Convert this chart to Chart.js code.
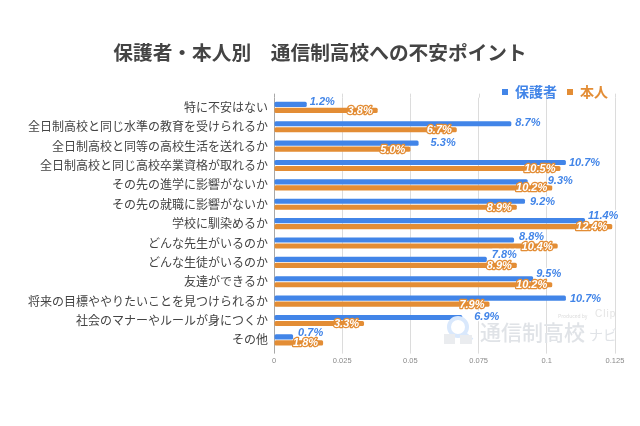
<!DOCTYPE html>
<html><head><meta charset="utf-8">
<style>
html,body{margin:0;padding:0;background:#fff;width:640px;height:426px;overflow:hidden}
#wrap{position:relative;width:640px;height:426px}
canvas{position:absolute;left:0;top:0}
.wm{position:absolute;white-space:nowrap;font-family:"Noto Sans CJK JP";line-height:1}
</style>
<script src="https://cdn.jsdelivr.net/npm/chart.js@4"></script>
</head><body><div id="wrap"><canvas id="c" width="640" height="426"></canvas>
<div class="wm" style="left:480px;top:321px;font-size:21px;color:#e0e3e7;font-weight:500">通信制高校<span style="font-size:14px;margin-left:4px;font-weight:400">ナビ</span></div>
<div class="wm" style="left:558px;top:313px;font-size:5px;color:#dcdcdc">Produced by</div>
<div class="wm" style="left:595px;top:309px;font-size:10px;color:#e4e4e4;letter-spacing:1px;font-family:'Liberation Sans'">Clip</div>
<svg style="position:absolute;left:444px;top:315px" width="36" height="36"><circle cx="14" cy="12" r="9" fill="none" stroke="#d9e8fc" stroke-width="4"/><line x1="21" y1="19" x2="28" y2="25" stroke="#d9e8fc" stroke-width="4"/><rect x="0" y="19" width="11" height="10" fill="#eaecef"/><rect x="16" y="20" width="12" height="9" fill="#eaecef"/></svg>
</div>
<script>
const categories=["特に不安はない","全日制高校と同じ水準の教育を受けられるか","全日制高校と同等の高校生活を送れるか","全日制高校と同じ高校卒業資格が取れるか","その先の進学に影響がないか","その先の就職に影響がないか","学校に馴染めるか","どんな先生がいるのか","どんな生徒がいるのか","友達ができるか","将来の目標ややりたいことを見つけられるか","社会のマナーやルールが身につくか","その他"];
const guardian=[0.012,0.087,0.053,0.107,0.093,0.092,0.114,0.088,0.078,0.095,0.107,0.069,0.007];
const student=[0.038,0.067,0.05,0.105,0.102,0.089,0.124,0.104,0.089,0.102,0.079,0.033,0.018];
const seriesNames=["保護者","本人"];
const xTicks=[0,0.025,0.05,0.075,0.1,0.125];
// label placement relative to each bar end (gap to the right, rise above the bar)
const guardianLabelGap=[3,4,12,3,20,5,3,5,5,3,4,12,5];
const guardianLabelRise=[3,1,1,0,1,0,5,4,5,5,0,1,4];
const BLUE="#4285e8",ORANGE="#e38d35",CJK='"Noto Sans CJK JP"';
const fmt=v=>(v*100).toFixed(1)+"%";
const dataLabels={id:"dataLabels",afterDatasetsDraw(chart){
  const g=chart.ctx;g.save();g.font='italic 700 11px "Liberation Sans"';g.textBaseline="middle";g.lineJoin="round";
  chart.getDatasetMeta(0).data.forEach((b,i)=>{g.textAlign="left";
    const x=b.x+guardianLabelGap[i],y=b.y-guardianLabelRise[i]+.5;
    g.strokeStyle="#fff";g.lineWidth=2.5;g.strokeText(fmt(guardian[i]),x,y);
    g.fillStyle=BLUE;g.fillText(fmt(guardian[i]),x,y);});
  chart.getDatasetMeta(1).data.forEach((b,i)=>{g.textAlign="right";
    const x=b.x-5,y=b.y+.5;
    g.strokeStyle=ORANGE;g.lineWidth=2.5;g.strokeText(fmt(student[i]),x,y);
    g.fillStyle="#fff";g.fillText(fmt(student[i]),x,y);});
  g.restore();}};
const frame={id:"frame",afterLayout(chart){const l=chart.legend;const h=l.bottom-l.top;l.top=75;l.bottom=75+h;l.right=618;
    const t=chart.titleBlock;t.right=640;t.top+=9;t.bottom+=9;},
  beforeDatasetsDraw(chart){const g=chart.ctx,a=chart.chartArea,s=chart.scales.x;g.save();g.lineWidth=1;
    xTicks.forEach((t,i)=>{const x=Math.round(s.getPixelForValue(t))+.5;g.strokeStyle=i?"#dcdcdc":"#a8a8a8";g.beginPath();g.moveTo(x,a.top-4);g.lineTo(x,a.top);g.stroke();});g.restore();}};
new Chart(document.getElementById("c"),{type:"bar",
 data:{labels:categories,datasets:[
  {label:seriesNames[0],data:guardian,backgroundColor:BLUE,borderRadius:1.5,borderSkipped:false,categoryPercentage:.62,barPercentage:.85},
  {label:seriesNames[1],data:student,backgroundColor:ORANGE,borderRadius:1.5,borderSkipped:false,categoryPercentage:.62,barPercentage:.85}]},
 plugins:[dataLabels,frame],
 options:{indexAxis:"y",responsive:false,animation:false,
  layout:{padding:{left:0,right:25,top:0,bottom:57.4}},
  plugins:{tooltip:{enabled:false},
   title:{display:true,text:"保護者・本人別　通信制高校への不安ポイント",color:"#444",font:{family:CJK,size:19.7,weight:"bold"},padding:{top:32,bottom:8}},
   legend:{position:"top",align:"end",labels:{boxWidth:6,boxHeight:6,padding:10,font:{family:CJK,size:14,weight:"bold"},
     generateLabels:c=>c.data.datasets.map((d,i)=>({text:d.label,fillStyle:d.backgroundColor,strokeStyle:d.backgroundColor,lineWidth:0,fontColor:d.backgroundColor,datasetIndex:i}))}}},
  scales:{
   x:{min:0,max:0.125,afterBuildTicks:s=>{s.ticks=xTicks.map(v=>({value:v}));},
      grid:{color:c=>c.tick.value===0?"#a8a8a8":"#dcdcdc",tickLength:4,drawTicks:true},border:{display:false},
      ticks:{color:"#8a8a8a",padding:3,maxRotation:0,font:{family:'"Liberation Sans"',size:7.5},callback:v=>String(v)}},
   y:{grid:{display:false,drawTicks:false},border:{display:false},afterFit:s=>{s.width=274;},
      ticks:{color:"#444",padding:6,autoSkip:false,font:{family:CJK,size:12}}}}}});
</script></body></html>
